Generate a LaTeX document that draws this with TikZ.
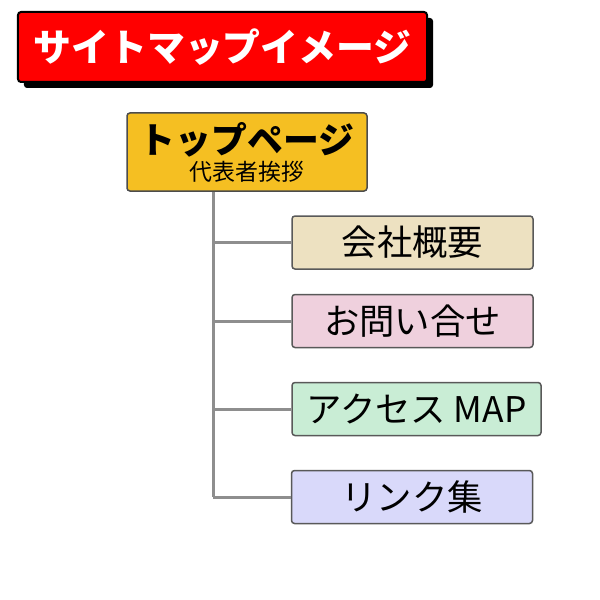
\documentclass[tikz,border=0pt]{standalone}
\usepackage{fontspec}
\setmainfont{Noto Sans CJK JP}
\usetikzlibrary{shadows}
\definecolor{titlered}{HTML}{FF0000}
\definecolor{topfill}{HTML}{F5BF22}
\definecolor{c1}{HTML}{EDE1C1}
\definecolor{c2}{HTML}{EFD0DD}
\definecolor{c3}{HTML}{C9EDD5}
\definecolor{c4}{HTML}{D9D9FA}
\definecolor{linegray}{HTML}{8E8E8E}
\tikzset{
  titlebox/.style={draw=black, line width=2bp, fill=titlered, rounded corners=3bp,
    minimum width=409bp, minimum height=70bp, inner sep=0pt, text=white,
    font=\fontsize{38}{40}\selectfont\bfseries,
    drop shadow={shadow xshift=6bp, shadow yshift=-6bp, fill=black, opacity=1}},
  topbox/.style={draw=black!70, line width=1.5bp, fill=topfill, rounded corners=3bp,
    minimum width=240bp, minimum height=78bp, inner sep=0pt, align=center},
  childbox/.style={draw=black!65, line width=1.5bp, rounded corners=3bp,
    minimum width=241bp, minimum height=53bp, inner sep=0pt,
    font=\fontsize{35.5}{36}\selectfont},
  conn/.style={draw=linegray, line width=3bp}
}
\begin{document}
\begin{tikzpicture}[x=1bp,y=-1bp]
\useasboundingbox (0,0) rectangle (600,600);
\node[titlebox] (title) at (222.5,47) {サイトマップイメージ};
\node[topbox] (top) at (247,152) {{\fontsize{36}{34}\selectfont\bfseries トップページ}\\[3bp]{\fontsize{23}{24}\selectfont 代表者挨拶}};
\node[childbox, fill=c1] (b1) at (412.5,242.5) {会社概要};
\node[childbox, fill=c2] (b2) at (412.5,321) {お問い合せ};
\node[childbox, fill=c3, minimum width=249bp] (b3) at (416.5,409) {アクセス MAP};
\node[childbox, fill=c4] (b4) at (412,497) {リンク集};
\coordinate (tr) at (213,497);
\draw[conn] (top.south -| tr) -- (tr);
\draw[conn] (b1.west -| tr) -- (b1.west);
\draw[conn] (b2.west -| tr) -- (b2.west);
\draw[conn] (b3.west -| tr) -- (b3.west);
\draw[conn] (tr) -- (b4.west);
\end{tikzpicture}
\end{document}
